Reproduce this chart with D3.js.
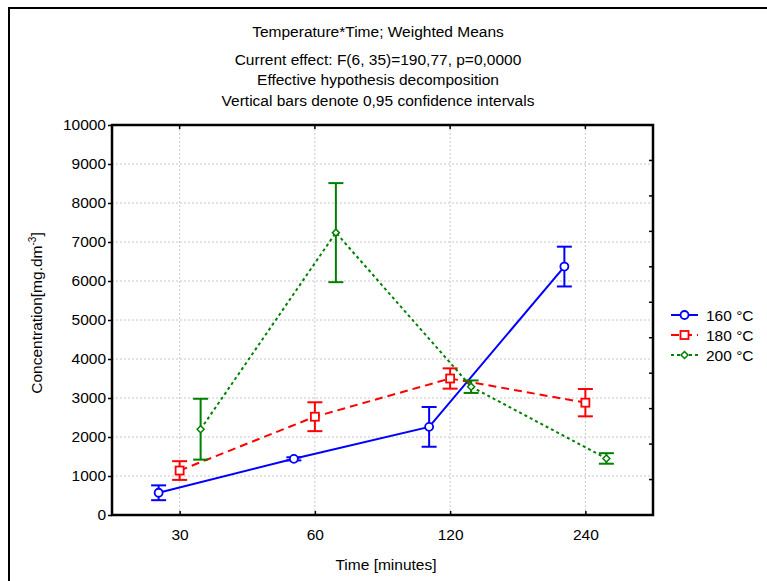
<!DOCTYPE html>
<html>
<head>
<meta charset="utf-8">
<script src="https://cdn.jsdelivr.net/npm/d3@7"></script>
<style>
  body { margin: 0; background: #fff; }
  text { font-family: "Liberation Sans", Arial, sans-serif; fill: #000; }
</style>
</head>
<body>
<svg id="chart"></svg>
<script>
const categories = ["30", "60", "120", "240"];
const seriesNames = ["160 °C", "180 °C", "200 °C"];
const means160 = [570, 1440, 2260, 6370];
const ci160 = [190, 40, 510, 510];
const means180 = [1140, 2520, 3500, 2880];
const ci180 = [240, 370, 260, 350];
const means200 = [2200, 7240, 3290, 1450];
const ci200 = [780, 1270, 160, 135];
const yTicks = [0, 1000, 2000, 3000, 4000, 5000, 6000, 7000, 8000, 9000, 10000];

const width = 767, height = 581;
const margin = { top: 125, right: 114, bottom: 66, left: 112 };
const fs = "15.5px";

const svg = d3.select("#chart").attr("width", width).attr("height", height);

// outer frame (only top/left edges visible)
svg.append("path")
    .attr("d", `M9,${height} V8 H${width}`)
    .attr("fill", "none")
    .attr("stroke", "#000")
    .attr("stroke-width", 2);

const x = d3.scalePoint()
    .domain(categories)
    .range([margin.left, width - margin.right])
    .padding(0.5);

const y = d3.scaleLinear()
    .domain([0, 10000])
    .range([height - margin.bottom, margin.top]);

const offset = d3.scaleOrdinal().domain(seriesNames).range([-21, 0, 21]);

const series = [
    { name: seriesNames[0], means: means160, ci: ci160, color: "#0000ff", dash: null, marker: "circle" },
    { name: seriesNames[1], means: means180, ci: ci180, color: "#ff0000", dash: "8,5", marker: "square" },
    { name: seriesNames[2], means: means200, ci: ci200, color: "#008000", dash: "3,3", marker: "diamond" }
];

// grid
svg.append("g")
    .selectAll("line")
    .data(yTicks.slice(1, -1))
    .enter().append("line")
    .attr("x1", margin.left).attr("x2", width - margin.right)
    .attr("y1", d => y(d)).attr("y2", d => y(d))
    .attr("stroke", "#c8c8c8").attr("stroke-dasharray", "2,2");

svg.append("g")
    .selectAll("line")
    .data(categories)
    .enter().append("line")
    .attr("x1", d => x(d)).attr("x2", d => x(d))
    .attr("y1", margin.top).attr("y2", height - margin.bottom)
    .attr("stroke", "#c8c8c8").attr("stroke-dasharray", "2,2");

// axes
const yAxis = svg.append("g")
    .attr("transform", `translate(${margin.left},0)`)
    .call(d3.axisLeft(y).tickValues(yTicks).tickSize(4).tickPadding(2).tickFormat(d3.format("d")));
yAxis.select(".domain").remove();
yAxis.selectAll("line").attr("stroke-width", 1.5);
yAxis.selectAll("text").style("font-size", fs).attr("fill", "#000");

const xAxis = svg.append("g")
    .attr("transform", `translate(0,${height - margin.bottom})`)
    .call(d3.axisBottom(x).tickSize(-4).tickPadding(14));
xAxis.select(".domain").remove();
xAxis.selectAll("line").attr("stroke-width", 1.5);
xAxis.selectAll("text").style("font-size", fs).attr("fill", "#000");

// top ticks
svg.append("g")
    .selectAll("line")
    .data(categories)
    .enter().append("line")
    .attr("x1", d => x(d)).attr("x2", d => x(d))
    .attr("y1", margin.top).attr("y2", margin.top + 4)
    .attr("stroke", "#000").attr("stroke-width", 1.5);

// right axis inward ticks
const yRight = d3.scaleLinear().domain([0, 11]).range([height - margin.bottom, margin.top]);
svg.append("g")
    .selectAll("line")
    .data(d3.range(1, 11))
    .enter().append("line")
    .attr("x1", width - margin.right - 4).attr("x2", width - margin.right)
    .attr("y1", d => yRight(d)).attr("y2", d => yRight(d))
    .attr("stroke", "#000").attr("stroke-width", 1.5);

// plot frame
svg.append("rect")
    .attr("x", margin.left).attr("y", margin.top)
    .attr("width", width - margin.left - margin.right)
    .attr("height", height - margin.top - margin.bottom)
    .attr("fill", "none").attr("stroke", "#000").attr("stroke-width", 2.5);

function drawMarker(g, type, color, cx, cy) {
    if (type === "circle") {
        g.append("circle").attr("cx", cx).attr("cy", cy).attr("r", 4)
            .attr("fill", "#fff").attr("stroke", color).attr("stroke-width", 1.8);
    } else if (type === "square") {
        g.append("rect").attr("x", cx - 4).attr("y", cy - 4).attr("width", 8).attr("height", 8)
            .attr("fill", "#fff").attr("stroke", color).attr("stroke-width", 1.8);
    } else {
        g.append("path").attr("d", `M${cx},${cy - 3.5} L${cx + 3.5},${cy} L${cx},${cy + 3.5} L${cx - 3.5},${cy} Z`)
            .attr("fill", "#fff").attr("stroke", color).attr("stroke-width", 1.5);
    }
}

// series
series.forEach(s => {
    const g = svg.append("g");
    const px = i => x(categories[i]) + offset(s.name);

    g.append("path")
        .datum(s.means)
        .attr("d", d3.line().x((d, i) => px(i)).y(d => y(d)))
        .attr("fill", "none")
        .attr("stroke", s.color)
        .attr("stroke-width", 2)
        .attr("stroke-dasharray", s.dash);

    s.means.forEach((m, i) => {
        const cx = px(i);
        const top = y(m + s.ci[i]), bot = y(m - s.ci[i]);
        g.append("line").attr("x1", cx).attr("x2", cx).attr("y1", top).attr("y2", bot)
            .attr("stroke", s.color).attr("stroke-width", 2);
        [top, bot].forEach(v => g.append("line")
            .attr("x1", cx - 7.5).attr("x2", cx + 7.5).attr("y1", v).attr("y2", v)
            .attr("stroke", s.color).attr("stroke-width", 2));
        drawMarker(g, s.marker, s.color, cx, y(m));
    });
});

// legend
const legend = svg.append("g").attr("transform", "translate(671,315)");
series.forEach((s, i) => {
    const row = legend.append("g").attr("transform", `translate(0,${i * 20})`);
    row.append("line").attr("x1", 0).attr("x2", 27).attr("y1", 0).attr("y2", 0)
        .attr("stroke", s.color).attr("stroke-width", 2).attr("stroke-dasharray", s.dash);
    drawMarker(row, s.marker, s.color, 13.5, 0);
    row.append("text").attr("x", 35).attr("y", 5.5).style("font-size", fs).text(s.name);
});

// titles
const titles = [
    ["Temperature*Time; Weighted Means", 37],
    ["Current effect: F(6, 35)=190,77, p=0,0000", 65],
    ["Effective hypothesis decomposition", 85],
    ["Vertical bars denote 0,95 confidence intervals", 106]
];
titles.forEach(([t, ty]) => {
    svg.append("text").attr("x", 378).attr("y", ty)
        .attr("text-anchor", "middle").style("font-size", fs).text(t);
});

// axis labels
svg.append("text")
    .attr("x", 386).attr("y", 570)
    .attr("text-anchor", "middle").style("font-size", fs)
    .text("Time [minutes]");

const yl = svg.append("text")
    .attr("transform", "translate(42,313) rotate(-90)")
    .attr("text-anchor", "middle").style("font-size", fs);
yl.append("tspan").text("Concentration[mg.dm");
yl.append("tspan").attr("dy", -6).style("font-size", "10px").text("-3");
yl.append("tspan").attr("dy", 6).text("]");
</script>
</body>
</html>
